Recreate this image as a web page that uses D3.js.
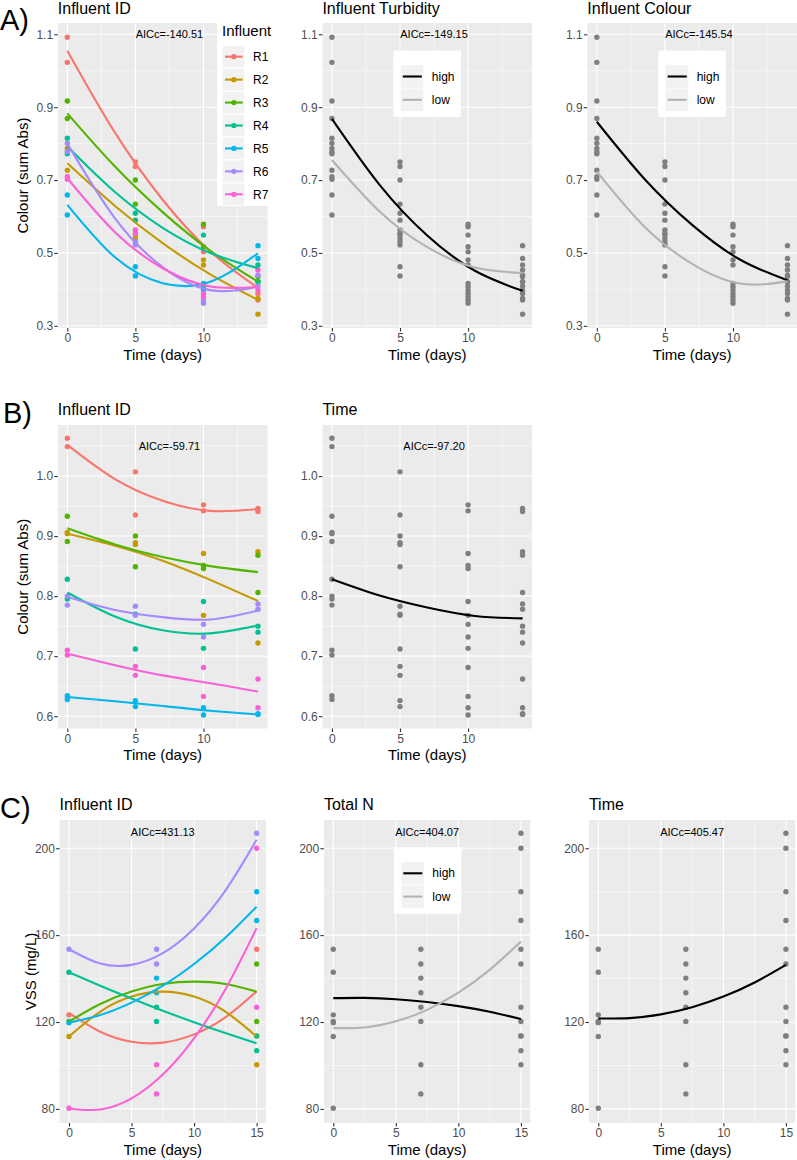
<!DOCTYPE html>
<html><head><meta charset="utf-8">
<script src="https://cdn.jsdelivr.net/npm/d3@7"></script>
<style>
body{margin:0;background:#fff}
svg{display:block}
text{font-family:"Liberation Sans",Arial,sans-serif}
</style>
</head><body>
<svg id="chart" width="797" height="1160"></svg>
<script>
// ---------------- DATA ----------------
const influents = ["R1","R2","R3","R4","R5","R6","R7"];
const influentColours = ["#F8766D","#C49A00","#53B400","#00C094","#00B6EB","#A58AFF","#FB61D7"];
const levels = ["high","low"];
const levelColours = ["#000000","#B3B3B3"];

// Panel A/B sampling days (two replicates per day)
const colourDays = [0,0,5,5,10,10,14,14];
// A) colour (sum Abs), one row per influent
const colourA = [
  [1.092,1.023,0.750,0.737,0.572,0.503,0.389,0.371],
  [0.787,0.727,0.550,0.540,0.481,0.467,0.375,0.332],
  [0.917,0.869,0.700,0.634,0.579,0.517,0.435,0.421],
  [0.815,0.772,0.609,0.590,0.549,0.407,0.467,0.421],
  [0.659,0.604,0.462,0.437,0.416,0.398,0.520,0.485],
  [0.801,0.778,0.531,0.522,0.371,0.362,0.439,0.409],
  [0.709,0.702,0.563,0.554,0.389,0.380,0.453,0.398]
];
// B) colour (sum Abs)
const colourB = [
  [1.063,1.049,1.007,0.935,0.952,0.942,0.946,0.941],
  [0.906,0.904,0.889,0.886,0.871,0.768,0.874,0.722],
  [0.933,0.891,0.900,0.849,0.851,0.846,0.868,0.806],
  [0.828,0.795,0.770,0.712,0.791,0.713,0.750,0.740],
  [0.634,0.628,0.626,0.616,0.614,0.602,0.604,0.603],
  [0.800,0.785,0.783,0.768,0.753,0.732,0.787,0.778],
  [0.710,0.702,0.683,0.668,0.681,0.633,0.662,0.614]
];
// C) VSS (mg/L)
const vssDays = [
  [0,15],[0,15,15],[0,15,15],[0,7,7,15,15],[0,7,7,15,15],[0,7,7,15],[0,7,7,15,15]
];
const vssValues = [
  [123.3,153.5],
  [113.3,113.6,100.3],
  [120.2,146.7,120.2],
  [142.9,126.8,120.2,113.6,106.8],
  [119.7,140.2,133.5,180.0,166.7],
  [153.5,153.5,146.7,206.9],
  [80.3,100.3,86.9,200.0,126.8]
];

// Fitted curves
const fitDaysColour = [0,3.5,7,10.5,14];
const fitA_ID = [
  [1.055,0.830,0.646,0.504,0.404],
  [0.746,0.629,0.527,0.441,0.371],
  [0.883,0.737,0.612,0.506,0.421],
  [0.792,0.667,0.569,0.500,0.458],
  [0.632,0.488,0.417,0.421,0.499],
  [0.800,0.595,0.461,0.398,0.407],
  [0.705,0.557,0.458,0.408,0.407]
];
const fitA_Turbidity = [[0.868,0.687,0.548,0.451,0.396],[0.755,0.614,0.516,0.460,0.445]];
const fitA_Colour = [[0.860,0.703,0.577,0.482,0.425],[0.723,0.572,0.470,0.416,0.422]];
const fitB_ID = [
  [1.052,0.995,0.959,0.942,0.945],
  [0.904,0.884,0.859,0.827,0.792],
  [0.913,0.886,0.865,0.850,0.840],
  [0.806,0.766,0.743,0.738,0.751],
  [0.632,0.625,0.617,0.609,0.603],
  [0.799,0.777,0.765,0.761,0.776],
  [0.704,0.685,0.668,0.655,0.641]
];
const fitB_Time = [0.828,0.801,0.781,0.767,0.763];
const fitDaysVSS = [0,2.5,5,7.5,10,12.5,15];
const fitC_ID = [
  [124.2,115.5,110.9,110.5,114.3,122.1,134.1],
  [113.3,124.8,131.7,134.0,131.7,124.8,113.3],
  [120.2,128.3,134.0,137.5,138.6,137.5,134.0],
  [142.9,136.7,130.8,125.2,119.9,114.9,110.2],
  [119.7,123.2,128.9,136.7,146.7,158.8,173.1],
  [153.5,146.9,146.3,151.7,163.1,180.5,203.9],
  [80.2,79.7,84.8,95.8,112.5,135.0,163.2]
];
const fitC_TotalN = [[131.0,131.1,130.5,129.2,127.3,124.7,121.4],[117.2,117.5,120.3,125.6,133.5,144.0,157.0]];
const fitC_Time = [121.6,121.8,123.5,126.8,131.7,138.2,146.3];

// Axes
const xTicksAB = [0,5,10], xMinorAB = [2.5,7.5,12.5];
const xTicksC = [0,5,10,15], xMinorC = [2.5,7.5,12.5];
const yTicksA = [0.3,0.5,0.7,0.9,1.1], yMinorA = [0.4,0.6,0.8,1.0];
const yTicksB = [0.6,0.7,0.8,0.9,1.0], yMinorB = [0.65,0.75,0.85,0.95,1.05];
const yTicksC = [80,120,160,200], yMinorC = [100,140,180];
const xDomainAB = [-0.7,14.7], xDomainC = [-0.75,15.75];
const yDomainA = [0.294,1.131], yDomainB = [0.5795,1.085], yDomainC = [73.5,213.0];

const titlesA = ["Influent ID","Influent Turbidity","Influent Colour"];
const titlesB = ["Influent ID","Time"];
const titlesC = ["Influent ID","Total N","Time"];
const aiccA = ["AICc=-140.51","AICc=-149.15","AICc=-145.54"];
const aiccB = ["AICc=-59.71","AICc=-97.20"];
const aiccC = ["AICc=431.13","AICc=404.07","AICc=405.47"];

// ---------------- DRAWING ----------------
const svg = d3.select("#chart");
const FONT = '"Liberation Sans",Arial,sans-serif';
const GREYPT = "#7F7F7F";

function panel(cfg){
  const g = svg.append("g").attr("transform",`translate(${cfg.left},${cfg.top})`);
  const x = d3.scaleLinear().domain(cfg.xDomain).range([0,cfg.width]);
  const y = d3.scaleLinear().domain(cfg.yDomain).range([cfg.height,0]);
  g.append("rect").attr("width",cfg.width).attr("height",cfg.height).attr("fill","#EBEBEB");
  g.selectAll(".mx").data(cfg.xMinor).join("line")
    .attr("x1",d=>x(d)).attr("x2",d=>x(d)).attr("y1",0).attr("y2",cfg.height)
    .attr("stroke","#fff").attr("stroke-width",0.55);
  g.selectAll(".my").data(cfg.yMinor).join("line")
    .attr("y1",d=>y(d)).attr("y2",d=>y(d)).attr("x1",0).attr("x2",cfg.width)
    .attr("stroke","#fff").attr("stroke-width",0.55);
  g.selectAll(".Mx").data(cfg.xTicks).join("line")
    .attr("x1",d=>x(d)).attr("x2",d=>x(d)).attr("y1",0).attr("y2",cfg.height)
    .attr("stroke","#fff").attr("stroke-width",1.1);
  g.selectAll(".My").data(cfg.yTicks).join("line")
    .attr("y1",d=>y(d)).attr("y2",d=>y(d)).attr("x1",0).attr("x2",cfg.width)
    .attr("stroke","#fff").attr("stroke-width",1.1);

  // axes
  const ax = g.append("g").attr("transform",`translate(0,${cfg.height})`)
    .call(d3.axisBottom(x).tickValues(cfg.xTicks).tickFormat(d3.format("d")).tickSize(3.5).tickPadding(2));
  const ay = g.append("g")
    .call(d3.axisLeft(y).tickValues(cfg.yTicks).tickFormat(cfg.yFormat).tickSize(3.5).tickPadding(1.2));
  [ax,ay].forEach(a=>{
    a.select(".domain").remove();
    a.selectAll(".tick line").attr("stroke","#333333").attr("stroke-width",1.1);
    a.selectAll(".tick text").attr("fill","#4D4D4D").style("font-size","12px").style("font-family",FONT);
  });

  // points
  g.selectAll(".pt").data(cfg.points).join("circle")
    .attr("cx",d=>x(d.x)).attr("cy",d=>y(d.y)).attr("r",2.7).attr("fill",d=>d.c);
  // lines
  const line = d3.line().x(d=>x(d[0])).y(d=>y(d[1])).curve(d3.curveNatural);
  cfg.lines.forEach(L=>{
    g.append("path").attr("d",line(L.xs.map((v,i)=>[v,L.ys[i]])))
      .attr("fill","none").attr("stroke",L.c).attr("stroke-width",2.1);
  });
  // AICc
  g.append("text").attr("x",x(7.5)).attr("y",y(cfg.aiccY)).attr("dy","0.35em")
    .attr("text-anchor","middle").style("font-size","11px").attr("fill","#000").text(cfg.aicc);
  // title
  g.append("text").attr("x",0).attr("y",-Math.min(10.5, cfg.top-13.5)).style("font-size","16px").attr("fill","#000").text(cfg.title);
  // x title
  g.append("text").attr("x",cfg.width/2).attr("y",cfg.height+31.5).attr("text-anchor","middle")
    .style("font-size","15px").attr("fill","#000").text("Time (days)");
  if(cfg.legend) levelLegend(g, cfg.legend);
  return g;
}

function levelLegend(g, lg){
  const b = g.append("g").attr("transform",`translate(${lg.dx},${lg.dy})`);
  b.append("rect").attr("width",67.5).attr("height",66.5).attr("fill","#fff");
  levels.forEach((lv,i)=>{
    const cy = 26 + i*23.3;
    b.append("rect").attr("x",7.4).attr("y",cy-11.3).attr("width",22.6).attr("height",22.6).attr("fill","#F2F2F2");
    b.append("line").attr("x1",9.4).attr("x2",28.4).attr("y1",cy).attr("y2",cy)
      .attr("stroke",levelColours[i]).attr("stroke-width",2.1);
    b.append("text").attr("x",38.4).attr("y",cy+4.2).style("font-size","12px").attr("fill","#000").text(lv);
  });
}

const allPts = (vals, days) => {
  const out=[];
  vals.forEach((row,i)=>row.forEach((v,j)=>out.push({x:Array.isArray(days[0])?days[i][j]:days[j], y:v, i})));
  return out;
};

const colLeftAB = [57.8,322.4,587.3], widthAB = 209.7;
const colLeftC = [59.6,323.9,588.9], widthC = 206.4;
const rowTop = [23,425,820], rowH = [305,303.5,303];
const fmt1 = d3.format(".1f"), fmt0 = d3.format("d");

// Row A
const ptsA = allPts(colourA, colourDays);
panel({left:colLeftAB[0],top:rowTop[0],width:widthAB,height:rowH[0],xDomain:xDomainAB,yDomain:yDomainA,
  xTicks:xTicksAB,xMinor:xMinorAB,yTicks:yTicksA,yMinor:yMinorA,yFormat:fmt1,title:titlesA[0],
  points:ptsA.map(p=>({x:p.x,y:p.y,c:influentColours[p.i]})),
  lines:fitA_ID.map((ys,i)=>({xs:fitDaysColour,ys,c:influentColours[i]})),
  aicc:aiccA[0],aiccY:1.1});
panel({left:colLeftAB[1],top:rowTop[0],width:widthAB,height:rowH[0],xDomain:xDomainAB,yDomain:yDomainA,
  xTicks:xTicksAB,xMinor:xMinorAB,yTicks:yTicksA,yMinor:yMinorA,yFormat:fmt1,title:titlesA[1],
  points:ptsA.map(p=>({x:p.x,y:p.y,c:GREYPT})),
  lines:fitA_Turbidity.map((ys,i)=>({xs:fitDaysColour,ys,c:levelColours[i]})),
  aicc:aiccA[1],aiccY:1.1,legend:{dx:71,dy:27.5}});
panel({left:colLeftAB[2],top:rowTop[0],width:widthAB,height:rowH[0],xDomain:xDomainAB,yDomain:yDomainA,
  xTicks:xTicksAB,xMinor:xMinorAB,yTicks:yTicksA,yMinor:yMinorA,yFormat:fmt1,title:titlesA[2],
  points:ptsA.map(p=>({x:p.x,y:p.y,c:GREYPT})),
  lines:fitA_Colour.map((ys,i)=>({xs:fitDaysColour,ys,c:levelColours[i]})),
  aicc:aiccA[2],aiccY:1.1,legend:{dx:71,dy:27.5}});

// Row B
const ptsB = allPts(colourB, colourDays);
panel({left:colLeftAB[0],top:rowTop[1],width:widthAB,height:rowH[1],xDomain:xDomainAB,yDomain:yDomainB,
  xTicks:xTicksAB,xMinor:xMinorAB,yTicks:yTicksB,yMinor:yMinorB,yFormat:fmt1,title:titlesB[0],
  points:ptsB.map(p=>({x:p.x,y:p.y,c:influentColours[p.i]})),
  lines:fitB_ID.map((ys,i)=>({xs:fitDaysColour,ys,c:influentColours[i]})),
  aicc:aiccB[0],aiccY:1.05});
panel({left:colLeftAB[1],top:rowTop[1],width:widthAB,height:rowH[1],xDomain:xDomainAB,yDomain:yDomainB,
  xTicks:xTicksAB,xMinor:xMinorAB,yTicks:yTicksB,yMinor:yMinorB,yFormat:fmt1,title:titlesB[1],
  points:ptsB.map(p=>({x:p.x,y:p.y,c:GREYPT})),
  lines:[{xs:fitDaysColour,ys:fitB_Time,c:"#000"}],
  aicc:aiccB[1],aiccY:1.05});

// Row C
const ptsC = allPts(vssValues, vssDays);
panel({left:colLeftC[0],top:rowTop[2],width:widthC,height:rowH[2],xDomain:xDomainC,yDomain:yDomainC,
  xTicks:xTicksC,xMinor:xMinorC,yTicks:yTicksC,yMinor:yMinorC,yFormat:fmt0,title:titlesC[0],
  points:ptsC.map(p=>({x:p.x,y:p.y,c:influentColours[p.i]})),
  lines:fitC_ID.map((ys,i)=>({xs:fitDaysVSS,ys,c:influentColours[i]})),
  aicc:aiccC[0],aiccY:207.3});
panel({left:colLeftC[1],top:rowTop[2],width:widthC,height:rowH[2],xDomain:xDomainC,yDomain:yDomainC,
  xTicks:xTicksC,xMinor:xMinorC,yTicks:yTicksC,yMinor:yMinorC,yFormat:fmt0,title:titlesC[1],
  points:ptsC.map(p=>({x:p.x,y:p.y,c:GREYPT})),
  lines:fitC_TotalN.map((ys,i)=>({xs:fitDaysVSS,ys,c:levelColours[i]})),
  aicc:aiccC[1],aiccY:207.3,legend:{dx:70,dy:27.3}});
panel({left:colLeftC[2],top:rowTop[2],width:widthC,height:rowH[2],xDomain:xDomainC,yDomain:yDomainC,
  xTicks:xTicksC,xMinor:xMinorC,yTicks:yTicksC,yMinor:yMinorC,yFormat:fmt0,title:titlesC[2],
  points:ptsC.map(p=>({x:p.x,y:p.y,c:GREYPT})),
  lines:[{xs:fitDaysVSS,ys:fitC_Time,c:"#000"}],
  aicc:aiccC[2],aiccY:207.3});

// Y-axis titles
[["Colour (sum Abs)",28,rowTop[0]+rowH[0]/2],["Colour (sum Abs)",28,rowTop[1]+rowH[1]/2],["VSS (mg/L)",35.5,rowTop[2]+rowH[2]/2]]
  .forEach(([t,xp,yp])=>{
    svg.append("text").attr("transform",`translate(${xp},${yp}) rotate(-90)`).attr("text-anchor","middle")
      .style("font-size","15px").attr("fill","#000").text(t);
  });

// Row labels
[["A)",0,30],["B)",3,422.7],["C)",0,818]].forEach(([t,xp,yp])=>{
  svg.append("text").attr("x",xp).attr("y",yp).style("font-size","29px").attr("fill","#000").text(t);
});

// Influent legend (panel A, Influent ID)
const lgA = svg.append("g").attr("transform","translate(217,17)");
lgA.append("rect").attr("width",56).attr("height",189).attr("fill","#fff");
lgA.append("text").attr("x",5).attr("y",18.5).style("font-size","15px").attr("fill","#000").text("Influent");
influents.forEach((r,i)=>{
  const cy = 39.7 + i*22.93;
  lgA.append("rect").attr("x",5.7).attr("y",cy-10.8).attr("width",21.6).attr("height",21.6).attr("fill","#F2F2F2");
  lgA.append("line").attr("x1",8).attr("x2",25.7).attr("y1",cy).attr("y2",cy)
    .attr("stroke",influentColours[i]).attr("stroke-width",2.1);
  lgA.append("circle").attr("cx",16.85).attr("cy",cy).attr("r",2.6).attr("fill",influentColours[i]);
  lgA.append("text").attr("x",36).attr("y",cy+4.3).style("font-size","12px").attr("fill","#000").text(r);
});
</script>
</body></html>
